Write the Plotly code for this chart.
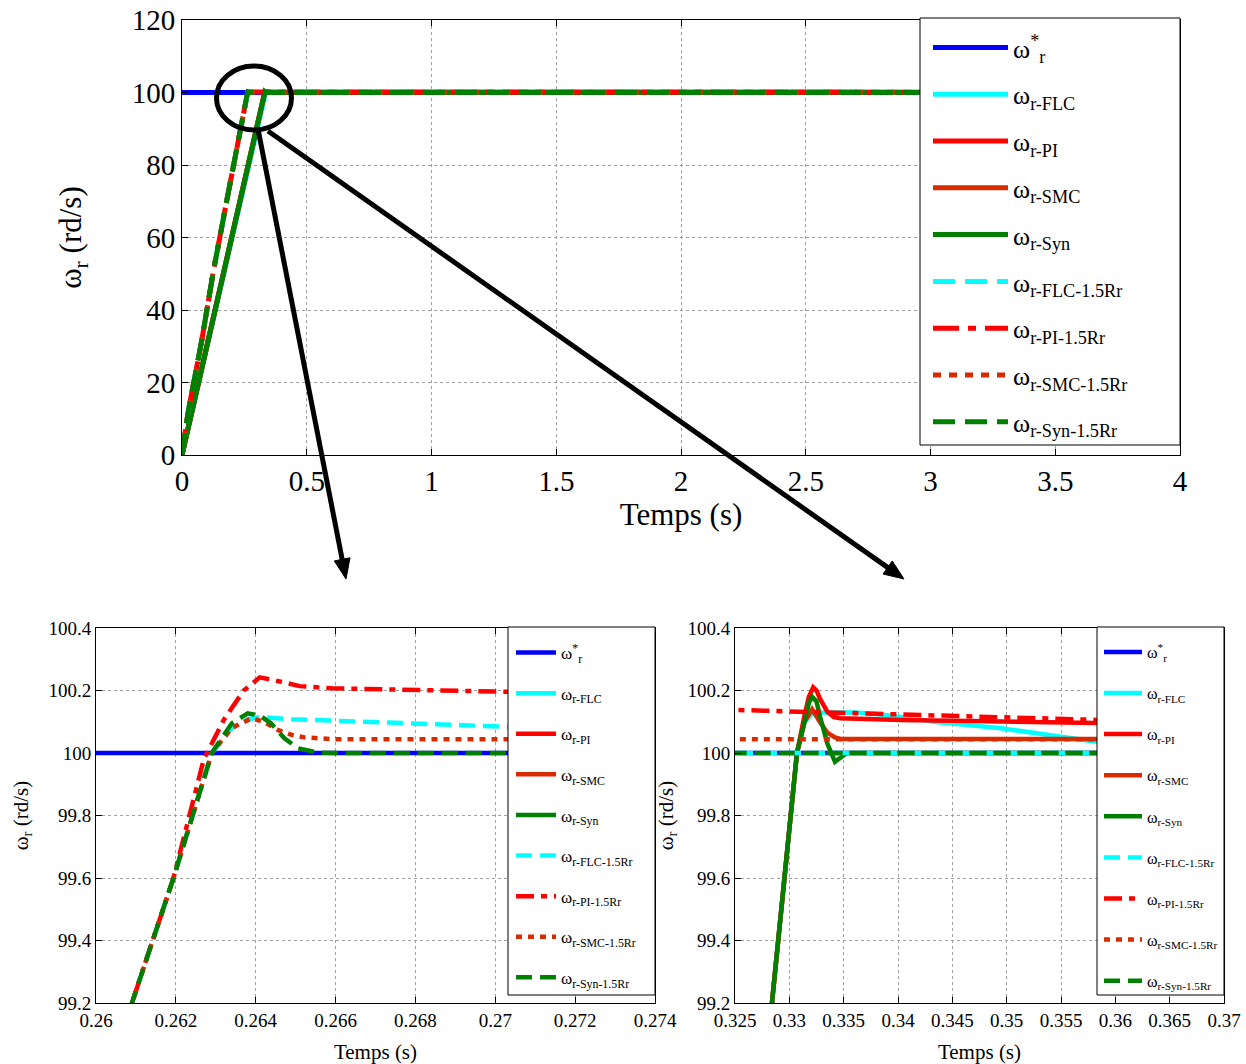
import math
import plotly.graph_objects as go

# ---------------- data ----------------
t_ref = [0.0, 4.0]
w_ref = [100.0, 100.0]

# nominal rotor resistance: common ramp
t_ramp = [0.0, 0.1, 0.2, 0.3, 0.3284, 0.3307]
w_ramp = [0.0, 30.0, 60.5, 90.0, 99.2, 100.0]

t_flc = t_ramp + [0.3314, 0.3322, 0.336, 0.338, 0.341, 0.3433, 0.3495, 0.3557, 0.3583, 0.37, 4.0]
w_flc = w_ramp + [100.1, 100.13, 100.13, 100.125, 100.112, 100.1, 100.079, 100.047, 100.036, 100.02, 100.0]

t_pi = t_ramp + [0.3314, 0.3318, 0.3322, 0.3325, 0.3328, 0.3335, 0.3341, 0.3347, 0.3403, 0.3495, 0.3583, 0.37, 4.0]
w_pi = w_ramp + [100.12, 100.18, 100.21, 100.2, 100.175, 100.132, 100.115, 100.111, 100.106, 100.1, 100.095, 100.09, 100.0]

t_smc = t_ramp + [0.3314, 0.3321, 0.3328, 0.3335, 0.3342, 0.3347, 4.0]
w_smc = w_ramp + [100.1, 100.14, 100.1, 100.065, 100.05, 100.045, 100.045]

t_syn = t_ramp + [0.3314, 0.3318, 0.3321, 0.3325, 0.3328, 0.3335, 0.3342, 0.3348, 0.3353, 4.0]
w_syn = w_ramp + [100.1, 100.16, 100.18, 100.165, 100.12, 100.03, 99.972, 99.985, 100.0, 100.0]

# 1.5 Rr: common ramp
t_ramp15 = [0.0, 0.025, 0.079, 0.126, 0.179, 0.229, 0.2609, 0.26194, 0.2629]
w_ramp15 = [0.0, 12.0, 31.5, 50.8, 70.0, 89.0, 99.2, 99.6, 100.0]

t_flc15 = t_ramp15 + [0.2634, 0.2638, 0.2641, 0.2649, 0.2662, 0.2674, 0.2687, 0.2703, 0.285, 0.3, 0.315, 4.0]
w_flc15 = w_ramp15 + [100.08, 100.108, 100.115, 100.108, 100.102, 100.097, 100.09, 100.084, 100.05, 100.025, 100.0, 100.0]

t_pi15 = t_ramp15[:-1] + [0.2627, 0.2632, 0.2637, 0.2641, 0.2645, 0.2651, 0.2659, 0.2674, 0.2698, 0.2703,
                          0.29, 0.31, 0.325, 0.3403, 0.3583, 0.37, 4.0]
w_pi15 = w_ramp15[:-1] + [99.98, 100.106, 100.2, 100.242, 100.232, 100.214, 100.207, 100.204, 100.2, 100.196,
                          100.17, 100.148, 100.138, 100.122, 100.106, 100.1, 100.0]

t_smc15 = t_ramp15 + [0.2634, 0.2639, 0.2642, 0.26455, 0.2649, 0.26522, 0.26598, 4.0]
w_smc15 = w_ramp15 + [100.08, 100.111, 100.1, 100.074, 100.058, 100.05, 100.044, 100.044]

t_syn15 = t_ramp15 + [0.2634, 0.2638, 0.2641, 0.26438, 0.26472, 0.26506, 0.26556, 0.266, 4.0]
w_syn15 = w_ramp15 + [100.095, 100.127, 100.12, 100.095, 100.047, 100.015, 100.001, 100.0, 100.0]

series_names = ["ω<sup>*</sup><sub>r</sub>", "ω<sub>r-FLC</sub>", "ω<sub>r-PI</sub>", "ω<sub>r-SMC</sub>",
                "ω<sub>r-Syn</sub>", "ω<sub>r-FLC-1.5Rr</sub>", "ω<sub>r-PI-1.5Rr</sub>",
                "ω<sub>r-SMC-1.5Rr</sub>", "ω<sub>r-Syn-1.5Rr</sub>"]
series_t = [t_ref, t_flc, t_pi, t_smc, t_syn, t_flc15, t_pi15, t_smc15, t_syn15]
series_w = [w_ref, w_flc, w_pi, w_smc, w_syn, w_flc15, w_pi15, w_smc15, w_syn15]

main_xticks = [0, 0.5, 1, 1.5, 2, 2.5, 3, 3.5, 4]
main_xtext = ["0", "0.5", "1", "1.5", "2", "2.5", "3", "3.5", "4"]
main_yticks = [0, 20, 40, 60, 80, 100, 120]
zl_xticks = [0.26, 0.262, 0.264, 0.266, 0.268, 0.27, 0.272, 0.274]
zl_xtext = ["0.26", "0.262", "0.264", "0.266", "0.268", "0.27", "0.272", "0.274"]
zr_xticks = [0.325, 0.33, 0.335, 0.34, 0.345, 0.35, 0.355, 0.36, 0.365, 0.37]
zr_xtext = ["0.325", "0.33", "0.335", "0.34", "0.345", "0.35", "0.355", "0.36", "0.365", "0.37"]
z_yticks = [99.2, 99.4, 99.6, 99.8, 100.0, 100.2, 100.4]
z_ytext = ["99.2", "99.4", "99.6", "99.8", "100", "100.2", "100.4"]

# ---------------- styles ----------------
colors = ["#0000FF", "#00FFFF", "#FF0000", "#D92B00", "#008000",
          "#00FFFF", "#FF0000", "#D92B00", "#008000"]
dash_main = ["solid", "solid", "solid", "solid", "solid",
             "22px,10px", "26px,9px,8px,9px", "8px,8px", "22px,10px"]
dash_small = ["solid", "solid", "solid", "solid", "solid",
              "16px,8px", "18px,7px,6px,7px", "6px,6px", "16px,8px"]

OFF = 0                      # body margin removed by post_script
W, H = 1246, 1064
FONT = "Liberation Serif, Times New Roman, serif"


def fx(px):
    return (px - OFF) / W


def fy(py):
    return 1 - (py - OFF) / H


fig = go.Figure()

panels = [("x", "y", "legend", dash_main), ("x2", "y2", "legend2", dash_small), ("x3", "y3", "legend3", dash_small)]
for xa, ya, lg, dashes in panels:
    for i in range(len(series_names)):
        fig.add_trace(go.Scatter(
            x=series_t[i], y=series_w[i], mode="lines", name=series_names[i],
            line=dict(color=colors[i], width=5 if lg == "legend" else 4.5, dash=dashes[i]),
            xaxis=xa, yaxis=ya, legend=lg, legendgroup=f"{lg}_{i}", hoverinfo="skip"))


def axis_common(size):
    return dict(showline=True, linecolor="black", linewidth=1, mirror="allticks",
                ticks="inside", ticklen=6, tickcolor="black", automargin=False,
                ticklabeloverflow="allow",
                showgrid=True, gridcolor="#a0a0a0", griddash="dot", gridwidth=1,
                zeroline=False, tickfont=dict(family=FONT, size=size, color="black"),
                tickmode="array")


main_dom_x = [fx(182), fx(1180)]
main_dom_y = [fy(455), fy(20)]
zl_dom_x = [fx(96), fx(655)]
zr_dom_x = [fx(735), fx(1224)]
z_dom_y = [fy(1003), fy(628)]


def legend_box(x0, x1, y0, y1):
    return dict(type="rect", xref="paper", yref="paper", layer="above",
                x0=fx(x0), x1=fx(x1), y0=fy(y1), y1=fy(y0),
                fillcolor="white", line=dict(color="black", width=1))


def leg(xpx, ypx, size, itemwidth, gap):
    return dict(x=fx(xpx), xanchor="left", y=fy(ypx), yanchor="top", xref="paper", yref="paper",
                bgcolor="rgba(0,0,0,0)", borderwidth=0,
                font=dict(family=FONT, size=size, color="black"), itemwidth=itemwidth,
                traceorder="grouped", tracegroupgap=gap)


layout = dict(
    width=W, height=H, margin=dict(l=0, r=0, t=0, b=0, autoexpand=False),
    paper_bgcolor="white", plot_bgcolor="white",
    font=dict(family=FONT, color="black"),
    xaxis=dict(axis_common(29), domain=main_dom_x, range=[0, 4], anchor="y",
               tickvals=main_xticks, ticktext=main_xtext,
               title=dict(text="Temps (s)", font=dict(family=FONT, size=31), standoff=0)),
    yaxis=dict(axis_common(29), domain=main_dom_y, range=[0, 120], anchor="x",
               tickvals=main_yticks, ticktext=[str(v) for v in main_yticks],
               title=dict(text="ω<sub>r</sub> (rd/s)", font=dict(family=FONT, size=31), standoff=40)),
    xaxis2=dict(axis_common(19), domain=zl_dom_x, range=[0.26, 0.274], anchor="y2",
                tickvals=zl_xticks, ticktext=zl_xtext,
                title=dict(text="Temps (s)", font=dict(family=FONT, size=21), standoff=16)),
    yaxis2=dict(axis_common(19), domain=z_dom_y, range=[99.2, 100.4], anchor="x2",
                tickvals=z_yticks, ticktext=z_ytext,
                title=dict(text="ω<sub>r</sub> (rd/s)", font=dict(family=FONT, size=21), standoff=14)),
    xaxis3=dict(axis_common(19), domain=zr_dom_x, range=[0.325, 0.37], anchor="y3",
                tickvals=zr_xticks, ticktext=zr_xtext,
                title=dict(text="Temps (s)", font=dict(family=FONT, size=21), standoff=16)),
    yaxis3=dict(axis_common(19), domain=z_dom_y, range=[99.2, 100.4], anchor="x3",
                tickvals=z_yticks, ticktext=z_ytext,
                title=dict(text="ω<sub>r</sub> (rd/s)", font=dict(family=FONT, size=21), standoff=8)),
    legend=leg(928, 24, 26, 75, 10),
    legend2=leg(511, 635, 17, 40, 15.5),
    legend3=leg(1099, 635, 16, 38, 17.3),
    showlegend=True,
)

# ---------------- legend boxes, zoom circle and arrows (decorations) ----------------
shapes = [legend_box(920, 1180, 18, 445),
          legend_box(508, 655, 627, 995),
          legend_box(1097, 1224, 627, 995),
          dict(type="circle", xref="paper", yref="paper",
               x0=fx(216.5), x1=fx(291.5), y0=fy(130), y1=fy(66),
               line=dict(color="black", width=5))]


def arrow(tail, tip, head_len=20, head_half=8):
    dx, dy = tip[0] - tail[0], tip[1] - tail[1]
    L = math.hypot(dx, dy)
    ux, uy = dx / L, dy / L
    bx, by = tip[0] - ux * head_len, tip[1] - uy * head_len
    px_, py_ = -uy, ux
    out = [dict(type="line", xref="paper", yref="paper",
                x0=fx(tail[0]), y0=fy(tail[1]), x1=fx(bx + ux * 2), y1=fy(by + uy * 2),
                line=dict(color="black", width=5))]
    p1 = (bx + px_ * head_half, by + py_ * head_half)
    p2 = (bx - px_ * head_half, by - py_ * head_half)
    path = (f"M {fx(tip[0])} {fy(tip[1])} L {fx(p1[0])} {fy(p1[1])} "
            f"L {fx(p2[0])} {fy(p2[1])} Z")
    out.append(dict(type="path", xref="paper", yref="paper", path=path,
                    fillcolor="black", line=dict(color="black", width=1)))
    return out


shapes += arrow((258, 129), (346, 579))
shapes += arrow((268, 131), (904, 579))
layout["shapes"] = shapes

fig.update_layout(**layout)
fig.write_html("out.html", config={"displayModeBar": False},
               post_script="document.body.style.margin='0px';document.body.style.overflow='hidden';")
